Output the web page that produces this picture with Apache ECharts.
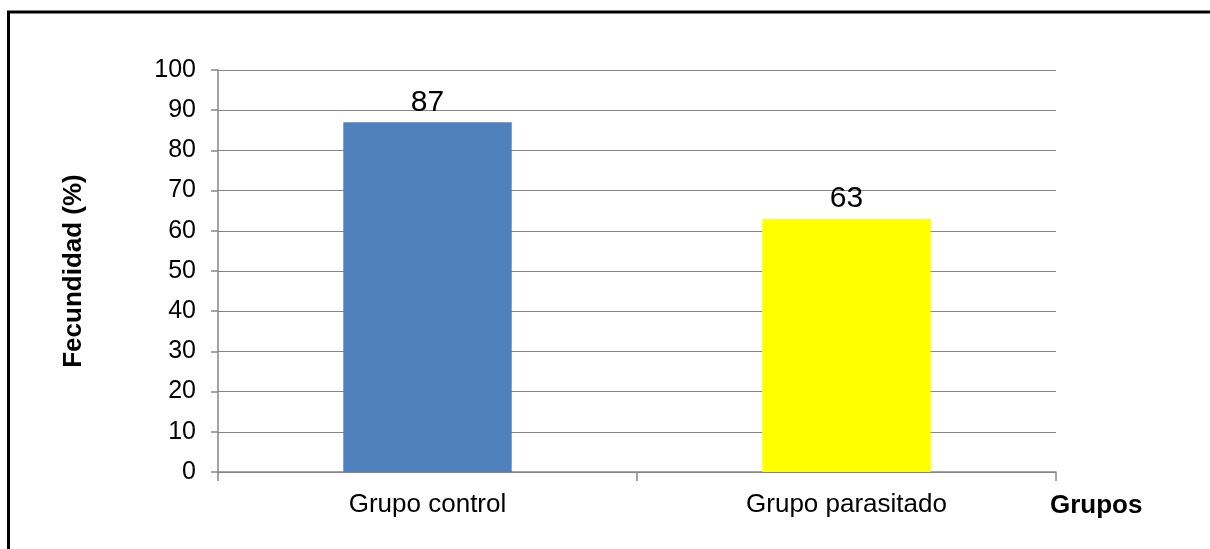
<!DOCTYPE html>
<html>
<head>
<meta charset="utf-8">
<style>
  html, body { margin: 0; padding: 0; background: #fff; }
  #chart { width: 1210px; height: 549px; }
</style>
<script src="https://cdn.jsdelivr.net/npm/echarts@6/dist/echarts.min.js"></script>
</head>
<body>
<div id="chart"></div>
<script>
// Fecundity (%) per group
const categories = ['Grupo control', 'Grupo parasitado'];
const fecundidad = [87, 63];
const barColors = ['#4F81BD', '#FFFF00'];
const yTicks = { min: 0, max: 100, interval: 10 };

const FONT = '"Liberation Sans", Arial, sans-serif';
const GRID_GRAY = '#868686';

const chart = echarts.init(document.getElementById('chart'), null, { renderer: 'canvas' });

chart.setOption({
  animation: false,
  backgroundColor: '#ffffff',
  grid: { left: 218, right: 154, top: 70, bottom: 77 },
  xAxis: {
    type: 'category',
    data: categories,
    axisLine: { show: true, lineStyle: { color: GRID_GRAY, width: 1.5 } },
    axisTick: { show: true, length: 9, alignWithLabel: false, lineStyle: { color: GRID_GRAY, width: 1.5 } },
    axisLabel: { color: '#000', fontFamily: FONT, fontSize: 26, margin: 20 },
    splitLine: { show: false }
  },
  yAxis: {
    type: 'value',
    min: yTicks.min,
    max: yTicks.max,
    interval: yTicks.interval,
    name: 'Fecundidad (%)',
    nameLocation: 'middle',
    nameGap: 131,
    nameTextStyle: { color: '#000', fontFamily: FONT, fontSize: 26, fontWeight: 'bold' },
    axisLine: { show: true, lineStyle: { color: GRID_GRAY, width: 1.5 } },
    axisTick: { show: true, length: 7, lineStyle: { color: GRID_GRAY, width: 1.5 } },
    axisLabel: { color: '#000', fontFamily: FONT, fontSize: 25, margin: 22 },
    splitLine: { show: true, lineStyle: { color: GRID_GRAY, width: 1 } }
  },
  series: [{
    type: 'bar',
    data: fecundidad.map((v, i) => ({ value: v, itemStyle: { color: barColors[i] } })),
    barWidth: '40.2%',
    label: {
      show: true,
      position: 'top',
      distance: 5,
      color: '#000',
      fontFamily: FONT,
      fontSize: 30
    }
  }],
  graphic: [
    {
      type: 'rect',
      silent: true,
      shape: { x: 8.5, y: 12, width: 1400, height: 800 },
      style: { fill: 'none', stroke: '#000', lineWidth: 3 }
    },
    {
      type: 'text',
      left: 1050,
      top: 493,
      style: { text: 'Grupos', fill: '#000', font: 'bold 26px ' + FONT }
    }
  ]
});
</script>
</body>
</html>
